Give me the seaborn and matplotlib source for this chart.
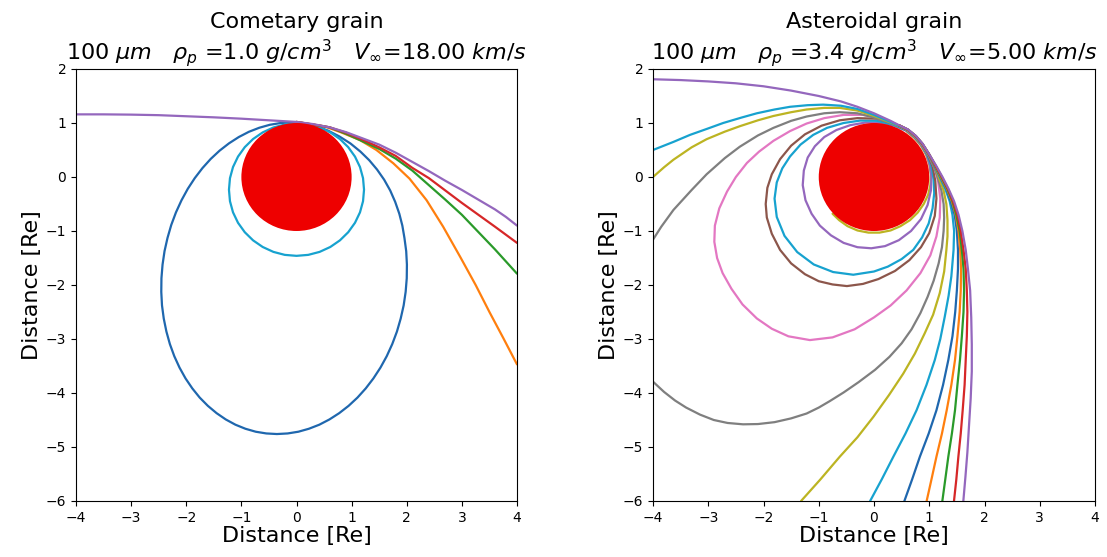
import numpy as np
import pandas as pd
import matplotlib
matplotlib.use("Agg")
import matplotlib.pyplot as plt
import seaborn as sns
from matplotlib.patches import Circle

# ---------------- data (units of Earth radii) ----------------
# Left panel: cometary grain
L_blue_x = [-0.095, -0.29, -0.484, -0.675, -0.864, -1.047, -1.225, -1.395, -1.556, -1.706, -1.845, -1.973, -2.087, -2.187, -2.272, -2.34, -2.394, -2.43, -2.45, -2.453, -2.44, -2.408, -2.36, -2.297, -2.217, -2.122, -2.013, -1.89, -1.756, -1.608, -1.45, -1.283, -1.108, -0.927, -0.74, -0.548, -0.355, -0.16, 0.034, 0.225, 0.414, 0.597, 0.775, 0.945, 1.106, 1.256, 1.395, 1.523, 1.637, 1.737, 1.822, 1.89, 1.944, 1.98, 2.0, 2.003, 1.99, 1.958, 1.92, 1.865, 1.79, 1.7, 1.59, 1.46, 1.32, 1.16, 0.98, 0.78, 0.57, 0.36, 0.14, -0.095]
L_blue_y = [1.01, 0.999, 0.967, 0.912, 0.837, 0.74, 0.623, 0.488, 0.335, 0.165, -0.02, -0.22, -0.433, -0.656, -0.888, -1.128, -1.373, -1.623, -1.875, -2.127, -2.377, -2.622, -2.862, -3.094, -3.318, -3.53, -3.73, -3.915, -4.085, -4.238, -4.373, -4.49, -4.587, -4.662, -4.717, -4.749, -4.76, -4.749, -4.717, -4.662, -4.587, -4.49, -4.373, -4.238, -4.085, -3.915, -3.73, -3.53, -3.318, -3.094, -2.862, -2.622, -2.377, -2.127, -1.875, -1.623, -1.373, -1.128, -0.9, -0.68, -0.46, -0.25, -0.05, 0.14, 0.31, 0.47, 0.62, 0.75, 0.86, 0.94, 0.99, 1.01]
L_cyan_x = [0.0, -0.213, -0.419, -0.613, -0.788, -0.938, -1.061, -1.152, -1.207, -1.225, -1.207, -1.152, -1.061, -0.938, -0.788, -0.613, -0.419, -0.213, 0.0, 0.213, 0.419, 0.613, 0.788, 0.938, 1.061, 1.152, 1.207, 1.225, 1.207, 1.152, 1.061, 0.938, 0.788, 0.613, 0.419, 0.213, 0.0]
L_cyan_y = [0.99, 0.972, 0.917, 0.826, 0.703, 0.553, 0.378, 0.184, -0.022, -0.235, -0.448, -0.654, -0.848, -1.023, -1.173, -1.296, -1.387, -1.442, -1.46, -1.442, -1.387, -1.296, -1.173, -1.023, -0.848, -0.654, -0.448, -0.235, -0.022, 0.184, 0.378, 0.553, 0.703, 0.826, 0.917, 0.972, 0.99]
L_orange_x = [0.0, 0.5, 0.8, 1.15, 1.45, 1.756, 2.05, 2.36, 2.66, 2.97, 3.25, 3.5, 3.75, 4.0]
L_orange_y = [1.02, 0.94, 0.83, 0.685, 0.5, 0.254, -0.03, -0.43, -0.92, -1.48, -2.0, -2.5, -2.98, -3.47]
L_green_x = [0.0, 0.6, 0.9, 1.2, 1.5, 1.8, 2.1, 2.4, 2.7, 3.0, 3.3, 3.6, 4.0]
L_green_y = [1.02, 0.92, 0.8, 0.66, 0.52, 0.34, 0.12, -0.15, -0.42, -0.7, -1.02, -1.34, -1.79]
L_red_x = [0.0, 0.6, 0.9, 1.2, 1.5, 1.8, 2.1, 2.4, 2.7, 3.0, 3.3, 3.6, 4.0]
L_red_y = [1.02, 0.92, 0.82, 0.69, 0.55, 0.39, 0.17, -0.02, -0.25, -0.48, -0.7, -0.92, -1.22]
L_purple_x = [-4.0, -3.5, -3.0, -2.5, -2.0, -1.5, -1.0, -0.5, 0.0, 0.3, 0.6, 0.9, 1.2, 1.5, 1.8, 2.1, 2.4, 2.7, 3.0, 3.3, 3.6, 3.8, 4.0]
L_purple_y = [1.16, 1.16, 1.155, 1.145, 1.125, 1.105, 1.08, 1.05, 1.02, 0.98, 0.92, 0.83, 0.715, 0.6, 0.45, 0.28, 0.11, -0.07, -0.24, -0.42, -0.6, -0.74, -0.9]

# Right panel: asteroidal grain
R_olivehug_x = [0.591, 0.728, 0.844, 0.94, 1.0, 1.03, 1.02, 0.98, 0.9, 0.79, 0.65, 0.48, 0.3, 0.1, -0.1, -0.3, -0.48, -0.63, -0.75]
R_olivehug_y = [0.844, 0.728, 0.591, 0.42, 0.24, 0.05, -0.15, -0.33, -0.5, -0.66, -0.8, -0.91, -0.99, -1.03, -1.03, -0.99, -0.91, -0.8, -0.68]
R_purplein_x = [0.597, 0.735, 0.852, 0.95, 1.01, 1.04, 1.03, 0.97, 0.85, 0.67, 0.45, 0.2, -0.05, -0.3, -0.55, -0.78, -0.98, -1.13, -1.24, -1.29, -1.27, -1.2, -1.07, -0.9, -0.68, -0.43, -0.15, 0.12, 0.37, 0.597]
R_purplein_y = [0.852, 0.735, 0.597, 0.42, 0.22, 0.0, -0.25, -0.52, -0.78, -1.0, -1.17, -1.28, -1.32, -1.3, -1.22, -1.08, -0.9, -0.68, -0.43, -0.15, 0.12, 0.36, 0.57, 0.74, 0.87, 0.96, 1.01, 1.0, 0.95, 0.852]
R_cyanin_x = [0.6, 0.739, 0.856, 0.96, 1.04, 1.08, 1.09, 1.06, 0.99, 0.87, 0.71, 0.5, 0.25, 0.0, -0.375, -0.74, -1.09, -1.39, -1.62, -1.76, -1.8, -1.76, -1.66, -1.52, -1.33, -1.1, -0.85, -0.55, -0.25, 0.05, 0.35, 0.6]
R_cyanin_y = [0.856, 0.739, 0.6, 0.42, 0.2, -0.05, -0.3, -0.58, -0.86, -1.12, -1.35, -1.52, -1.66, -1.75, -1.81, -1.76, -1.62, -1.39, -1.09, -0.74, -0.4, -0.1, 0.16, 0.38, 0.6, 0.78, 0.91, 1.0, 1.045, 1.04, 0.97, 0.856]
R_brown_x = [0.603, 0.742, 0.86, 0.97, 1.06, 1.11, 1.13, 1.1, 1.0, 0.85, 0.64, 0.38, 0.08, -0.2, -0.49, -0.75, -1.0, -1.25, -1.5, -1.7, -1.85, -1.94, -1.96, -1.93, -1.85, -1.7, -1.5, -1.25, -0.95, -0.62, -0.3, 0.05, 0.35, 0.603]
R_brown_y = [0.86, 0.742, 0.603, 0.42, 0.2, -0.08, -0.4, -0.72, -1.04, -1.3, -1.54, -1.74, -1.89, -1.98, -2.02, -1.99, -1.93, -1.8, -1.6, -1.35, -1.05, -0.75, -0.5, -0.2, 0.05, 0.33, 0.58, 0.79, 0.95, 1.05, 1.09, 1.08, 0.99, 0.86]
R_pink_x = [0.606, 0.746, 0.864, 0.99, 1.09, 1.16, 1.2, 1.19, 1.13, 1.02, 0.84, 0.59, 0.3, 0.0, -0.35, -0.75, -1.16, -1.55, -1.85, -2.12, -2.38, -2.58, -2.74, -2.84, -2.89, -2.88, -2.8, -2.66, -2.5, -2.3, -2.08, -1.82, -1.52, -1.22, -0.9, -0.55, -0.2, 0.15, 0.4, 0.606]
R_pink_y = [0.864, 0.746, 0.606, 0.4, 0.18, -0.08, -0.4, -0.75, -1.1, -1.45, -1.78, -2.1, -2.38, -2.6, -2.82, -2.97, -3.02, -2.95, -2.81, -2.62, -2.36, -2.07, -1.78, -1.5, -1.2, -0.9, -0.58, -0.27, 0.0, 0.26, 0.47, 0.67, 0.85, 0.99, 1.09, 1.15, 1.15, 1.08, 0.98, 0.864]
R_gray_x = [-4.0, -3.85, -3.63, -3.3, -3.03, -2.7, -2.43, -2.1, -1.82, -1.5, -1.22, -0.9, -0.62, -0.3, 0.0, 0.3, 0.45, 0.608, 0.749, 0.868, 0.99, 1.08, 1.15, 1.22, 1.26, 1.27, 1.26, 1.23, 1.17, 1.08, 0.97, 0.84, 0.68, 0.5, 0.28, 0.02, -0.28, -0.55, -0.8, -1.0, -1.22, -1.5, -1.8, -2.1, -2.37, -2.65, -2.9, -3.15, -3.4, -3.6, -3.8, -4.0]
R_gray_y = [-1.16, -0.92, -0.61, -0.24, 0.05, 0.35, 0.56, 0.77, 0.91, 1.04, 1.12, 1.18, 1.2, 1.18, 1.1, 1.0, 0.945, 0.868, 0.749, 0.608, 0.4, 0.2, 0.0, -0.25, -0.5, -0.75, -1.0, -1.3, -1.6, -1.92, -2.22, -2.52, -2.82, -3.08, -3.33, -3.57, -3.8, -3.99, -4.15, -4.27, -4.38, -4.47, -4.54, -4.575, -4.58, -4.555, -4.5, -4.4, -4.27, -4.14, -3.98, -3.79]
R_olive_x = [-4.0, -3.8, -3.63, -3.3, -3.03, -2.7, -2.43, -2.1, -1.82, -1.5, -1.22, -0.9, -0.62, -0.3, 0.0, 0.3, 0.45, 0.61, 0.75, 0.87, 1.0, 1.1, 1.17, 1.26, 1.31, 1.33, 1.33, 1.31, 1.27, 1.19, 1.07, 0.92, 0.74, 0.53, 0.27, -0.01, -0.3, -0.62, -0.97, -1.32]
R_olive_y = [0.0, 0.18, 0.32, 0.55, 0.7, 0.84, 0.94, 1.05, 1.13, 1.2, 1.25, 1.28, 1.28, 1.23, 1.13, 1.01, 0.945, 0.87, 0.75, 0.61, 0.4, 0.19, 0.0, -0.25, -0.5, -0.8, -1.1, -1.35, -1.75, -2.15, -2.55, -2.89, -3.27, -3.64, -4.04, -4.44, -4.82, -5.18, -5.6, -6.0]
R_cyan_x = [-4.0, -3.63, -3.33, -3.0, -2.73, -2.4, -2.12, -1.8, -1.52, -1.2, -0.92, -0.6, -0.3, 0.0, 0.3, 0.45, 0.612, 0.753, 0.872, 1.0, 1.1, 1.19, 1.29, 1.37, 1.42, 1.45, 1.44, 1.4, 1.35, 1.28, 1.2, 1.1, 0.95, 0.77, 0.57, 0.35, 0.14, -0.07]
R_cyan_y = [0.5, 0.65, 0.78, 0.9, 1.0, 1.1, 1.18, 1.25, 1.3, 1.33, 1.34, 1.32, 1.26, 1.15, 1.02, 0.95, 0.872, 0.753, 0.612, 0.41, 0.2, 0.0, -0.22, -0.45, -0.7, -1.0, -1.35, -1.84, -2.2, -2.59, -3.0, -3.39, -3.85, -4.32, -4.75, -5.18, -5.6, -6.0]
R_blue_x = [0.45, 0.614, 0.757, 0.876, 1.0, 1.1, 1.2, 1.31, 1.39, 1.46, 1.5, 1.52, 1.52, 1.5, 1.47, 1.42, 1.345, 1.25, 1.13, 0.99, 0.83, 0.69, 0.55]
R_blue_y = [0.96, 0.876, 0.757, 0.614, 0.415, 0.2, 0.0, -0.22, -0.45, -0.7, -1.0, -1.35, -1.7, -2.1, -2.5, -2.95, -3.39, -3.85, -4.32, -4.75, -5.18, -5.6, -6.0]
R_orange_x = [0.45, 0.614, 0.757, 0.876, 1.0, 1.11, 1.21, 1.32, 1.41, 1.48, 1.53, 1.56, 1.575, 1.57, 1.55, 1.51, 1.466, 1.4, 1.316, 1.23, 1.13, 1.04, 0.953]
R_orange_y = [0.96, 0.876, 0.757, 0.614, 0.415, 0.2, 0.0, -0.22, -0.45, -0.7, -1.0, -1.35, -1.7, -2.1, -2.5, -2.95, -3.39, -3.85, -4.32, -4.75, -5.18, -5.6, -6.0]
R_green_x = [0.45, 0.614, 0.757, 0.876, 1.0, 1.12, 1.22, 1.33, 1.42, 1.49, 1.55, 1.59, 1.62, 1.63, 1.62, 1.59, 1.556, 1.51, 1.466, 1.41, 1.345, 1.29, 1.237]
R_green_y = [0.96, 0.876, 0.757, 0.614, 0.415, 0.2, 0.0, -0.22, -0.45, -0.7, -1.0, -1.35, -1.7, -2.1, -2.5, -2.95, -3.39, -3.85, -4.32, -4.75, -5.18, -5.6, -6.0]
R_red_x = [0.45, 0.614, 0.757, 0.876, 1.0, 1.12, 1.23, 1.34, 1.43, 1.51, 1.57, 1.62, 1.66, 1.68, 1.69, 1.68, 1.66, 1.64, 1.605, 1.57, 1.527, 1.49, 1.448]
R_red_y = [0.96, 0.876, 0.757, 0.614, 0.415, 0.2, 0.0, -0.22, -0.45, -0.7, -1.0, -1.35, -1.7, -2.1, -2.5, -2.95, -3.39, -3.85, -4.32, -4.75, -5.18, -5.6, -6.0]
R_purple_x = [-4.0, -3.5, -3.0, -2.5, -2.0, -1.5, -1.0, -0.6, -0.3, 0.0, 0.3, 0.45, 0.617, 0.76, 0.88, 1.0, 1.13, 1.24, 1.35, 1.45, 1.53, 1.6, 1.66, 1.7, 1.74, 1.76, 1.77, 1.77, 1.75, 1.72, 1.69, 1.655, 1.617]
R_purple_y = [1.81, 1.795, 1.77, 1.735, 1.68, 1.6, 1.5, 1.4, 1.3, 1.18, 1.04, 0.96, 0.88, 0.76, 0.617, 0.42, 0.2, 0.0, -0.22, -0.45, -0.7, -1.0, -1.35, -1.7, -2.1, -2.6, -3.1, -3.6, -4.1, -4.6, -5.1, -5.55, -6.0]

# colours
C = {"blue": "#1f67ae", "orange": "#ff7f0e", "green": "#2a9a2a", "red": "#d62728",
     "purple": "#9467bd", "brown": "#8c564b", "pink": "#e377c2", "gray": "#7f7f7f",
     "olive": "#bcb422", "cyan": "#17a2cf"}

left_curves = [("blue", L_blue_x, L_blue_y, "blue"), ("cyan", L_cyan_x, L_cyan_y, "cyan"),
               ("orange", L_orange_x, L_orange_y, "orange"), ("green", L_green_x, L_green_y, "green"),
               ("red", L_red_x, L_red_y, "red"), ("purple", L_purple_x, L_purple_y, "purple")]
right_curves = [("olivehug", R_olivehug_x, R_olivehug_y, "olive"),
                ("purplein", R_purplein_x, R_purplein_y, "purple"),
                ("cyanin", R_cyanin_x, R_cyanin_y, "cyan"),
                ("brown", R_brown_x, R_brown_y, "brown"),
                ("pink", R_pink_x, R_pink_y, "pink"),
                ("gray", R_gray_x, R_gray_y, "gray"),
                ("olive", R_olive_x, R_olive_y, "olive"),
                ("cyan", R_cyan_x, R_cyan_y, "cyan"),
                ("blue", R_blue_x, R_blue_y, "blue"),
                ("orange", R_orange_x, R_orange_y, "orange"),
                ("green", R_green_x, R_green_y, "green"),
                ("red", R_red_x, R_red_y, "red"),
                ("purple", R_purple_x, R_purple_y, "purple")]

titles = ["Cometary grain\n" + r"100 $\mu m$   $\rho_p$ =1.0 $g/cm^3$   $V_{\infty}$=18.00 $km/s$",
          "Asteroidal grain\n" + r"100 $\mu m$   $\rho_p$ =3.4 $g/cm^3$   $V_{\infty}$=5.00 $km/s$"]

sns.set_style("ticks")
plt.rcParams['font.family'] = ['DejaVu Sans']
for k in ['text.color', 'axes.labelcolor', 'xtick.color', 'ytick.color', 'axes.edgecolor']:
    plt.rcParams[k] = 'black'

fig = plt.figure(figsize=(11.07, 5.57), dpi=100)
ax1 = fig.add_axes([76 / 1107, 56 / 557, 441 / 1107, 432 / 557])
ax2 = fig.add_axes([653 / 1107, 56 / 557, 442 / 1107, 432 / 557])


def draw(ax, curves, title):
    rows = []
    for name, xs, ys, col in curves:
        for i, (xv, yv) in enumerate(zip(xs, ys)):
            rows.append((name, i, xv, yv))
    df = pd.DataFrame(rows, columns=["curve", "order", "x", "y"])
    order = [c[0] for c in curves]
    pal = {c[0]: C[c[3]] for c in curves}
    sns.lineplot(data=df, x="x", y="y", hue="curve", hue_order=order, palette=pal,
                 sort=False, estimator=None, legend=False, linewidth=1.6, ax=ax)
    for ln in ax.get_lines():
        ln.set_solid_joinstyle("round")
    ax.add_patch(Circle((0, 0), 1.0, color="#ee0000", zorder=3, lw=0))
    ax.set_xlim(-4, 4)
    ax.set_ylim(-6, 2)
    ax.set_xticks(range(-4, 5))
    ax.set_yticks(range(-6, 3))
    ax.tick_params(labelsize=10, direction="out", length=3.5, width=0.8)
    ax.set_xlabel("Distance [Re]", fontsize=16, labelpad=1)
    ax.set_ylabel("Distance [Re]", fontsize=16, labelpad=3)
    ax.set_title(title, fontsize=16, pad=5)
    for s in ax.spines.values():
        s.set_linewidth(0.8)


draw(ax1, left_curves, titles[0])
draw(ax2, right_curves, titles[1])

fig.savefig("out.png", dpi=100)
